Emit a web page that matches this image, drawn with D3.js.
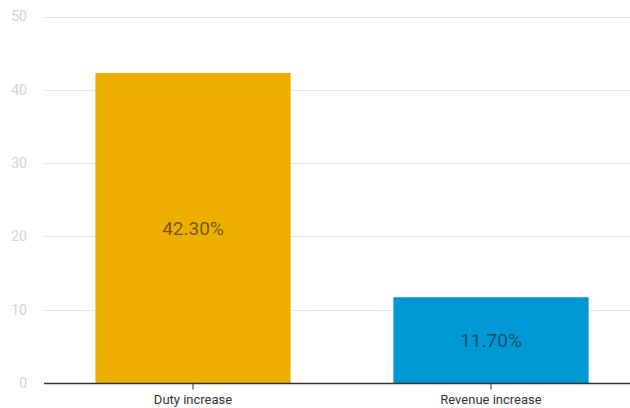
<!DOCTYPE html>
<html>
<head>
<meta charset="utf-8">
<script src="https://cdn.jsdelivr.net/npm/d3@7/dist/d3.min.js"></script>
<style>
  html, body { margin: 0; padding: 0; background: #fff; }
  svg { display: block; font-family: Roboto, "Noto Sans", sans-serif; }
</style>
</head>
<body>
<svg id="chart" width="630" height="408"></svg>
<script>
// Chart data
const categories = ["Duty increase", "Revenue increase"];
const values = [42.3, 11.7];
const valueLabels = ["42.30%", "11.70%"];
const barColors = ["#EDAE00", "#0098D4"];
const yTicks = [0, 10, 20, 30, 40, 50];

const svg = d3.select("#chart");
const margin = { left: 44, right: -10, top: 16.5, bottom: 25 };
const W = 630, H = 408;

const x = d3.scaleBand()
  .domain(categories)
  .range([margin.left, W - margin.right])
  .paddingInner(0.345)
  .paddingOuter(0.1725);

const y = d3.scaleLinear()
  .domain([0, 50])
  .range([H - margin.bottom, margin.top]);

// Horizontal gridlines
svg.append("g")
  .selectAll("line")
  .data(yTicks.filter(d => d !== 0))
  .join("line")
  .attr("x1", margin.left)
  .attr("x2", W)
  .attr("y1", d => Math.round(y(d)) + 0.5)
  .attr("y2", d => Math.round(y(d)) + 0.5)
  .attr("stroke", "#e8e8e8")
  .attr("stroke-width", 1);

// Y axis labels
const yAxis = d3.axisLeft(y).tickValues(yTicks).tickSize(0).tickPadding(0);
const yg = svg.append("g")
  .attr("transform", `translate(${27},0)`)
  .call(yAxis);
yg.select(".domain").remove();
yg.selectAll("text")
  .attr("fill", "#d4d4d4")
  .attr("font-size", 14)
  .attr("font-family", "Roboto, sans-serif");

// Bars
svg.append("g")
  .selectAll("rect")
  .data(values)
  .join("rect")
  .attr("x", (d, i) => x(categories[i]))
  .attr("y", d => y(d))
  .attr("width", x.bandwidth())
  .attr("height", d => y(0) - y(d))
  .attr("fill", (d, i) => barColors[i]);

// Value labels inside bars
svg.append("g")
  .selectAll("text")
  .data(values)
  .join("text")
  .attr("x", (d, i) => x(categories[i]) + x.bandwidth() / 2)
  .attr("y", d => (y(d) + y(0)) / 2)
  .attr("dy", "0.35em")
  .attr("text-anchor", "middle")
  .attr("font-size", 19)
  .attr("fill", "#1a1a1a")
  .attr("fill-opacity", 0.62)
  .text((d, i) => valueLabels[i]);

// X axis: baseline, ticks and category labels
const xAxis = d3.axisBottom(x).tickSize(6).tickSizeOuter(0).tickPadding(5);
const xg = svg.append("g")
  .attr("transform", `translate(0,${Math.round(y(0)) + 0.5})`)
  .call(xAxis);
xg.select(".domain")
  .attr("d", `M${margin.left},0H${W}`)
  .attr("stroke", "#333")
  .attr("stroke-width", 1.3);
xg.selectAll(".tick line").attr("stroke", "#333");
xg.selectAll("text")
  .attr("fill", "#333")
  .attr("font-size", 13)
  .attr("font-family", "Roboto, sans-serif");
</script>
</body>
</html>
